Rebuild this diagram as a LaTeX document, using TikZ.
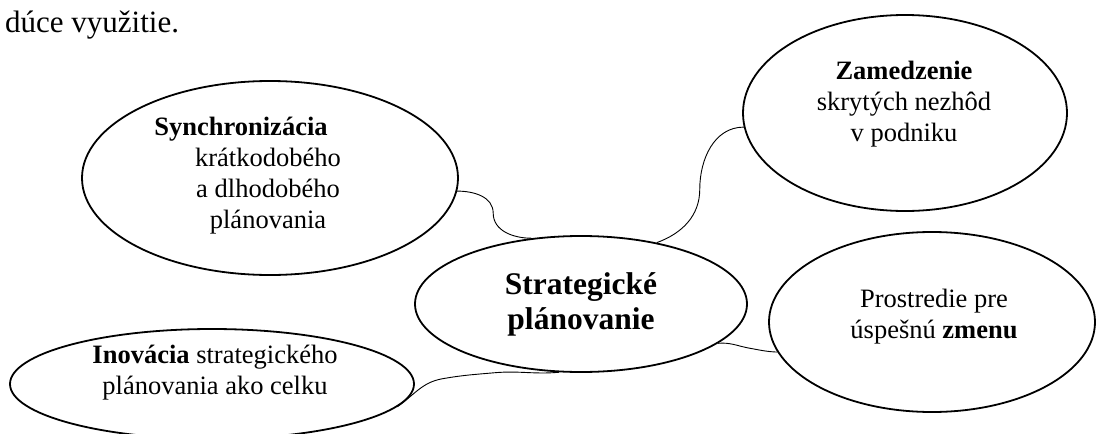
\documentclass[tikz,border=0pt]{standalone}
\usepackage{fontspec}
\setmainfont{Liberation Serif}
\usetikzlibrary{shapes.geometric}
\begin{document}
\begin{tikzpicture}[x=1pt,y=-1pt,
  bubble/.style={draw, ellipse, line width=1.8pt, inner sep=0pt},
  link/.style={line width=0.9pt},
  txt/.style={align=center, font=\fontsize{26.5}{31}\selectfont, inner sep=0pt},
  bigtxt/.style={align=center, font=\fontsize{31.5}{35}\selectfont\bfseries, inner sep=0pt}]
\useasboundingbox (0,0) rectangle (1096,434);
\node[anchor=base west, font=\fontsize{31}{36}\selectfont, inner sep=0pt] (intro) at (5,32) {dúce využitie.};

\node[bubble, minimum width=376pt, minimum height=194pt] (syn) at (270,178) {};
\node[bubble, minimum width=332pt, minimum height=136pt] (strat) at (581,304) {};
\node[bubble, minimum width=324pt, minimum height=196pt] (zam) at (905,113) {};
\node[bubble, minimum width=326pt, minimum height=180pt] (pros) at (932,322) {};
\node[bubble, minimum width=404pt, minimum height=110pt] (ino) at (212,384) {};

\node[txt] (synt) at (268,176) {\textbf{Synchronizácia}\hspace*{54pt}\\krátkodobého\\a dlhodobého\\plánovania};
\node[bigtxt] (stratt) at (581,304) {Strategické\\plánovanie};
\node[txt] (zamt) at (904,104) {\textbf{Zamedzenie}\\skrytých nezhôd\\v podniku};
\node[txt] (prost) at (934,317) {Prostredie pre\\úspešnú \textbf{zmenu}};
\node[txt] (inot) at (215,373) {\textbf{Inovácia} strategického\\plánovania ako celku};

\draw[link] (syn.-4) to[out=0,in=90] ++(36,22) to[out=-90,in=180] (strat.127);
\draw[link] (zam.185) to[out=180,in=90] ++(-44,62) to[out=-90,in=20] (strat.39);
\draw[link] (strat.-16) to[out=5,in=170] ++(32,5) to[out=-10,in=178] (pros.191);
\draw[link] (ino.-7) to[out=35,in=190] ++(45,-28) to[out=10,in=185] ++(52,-6) to[out=5,in=-175] (strat.-108);
\end{tikzpicture}
\end{document}
